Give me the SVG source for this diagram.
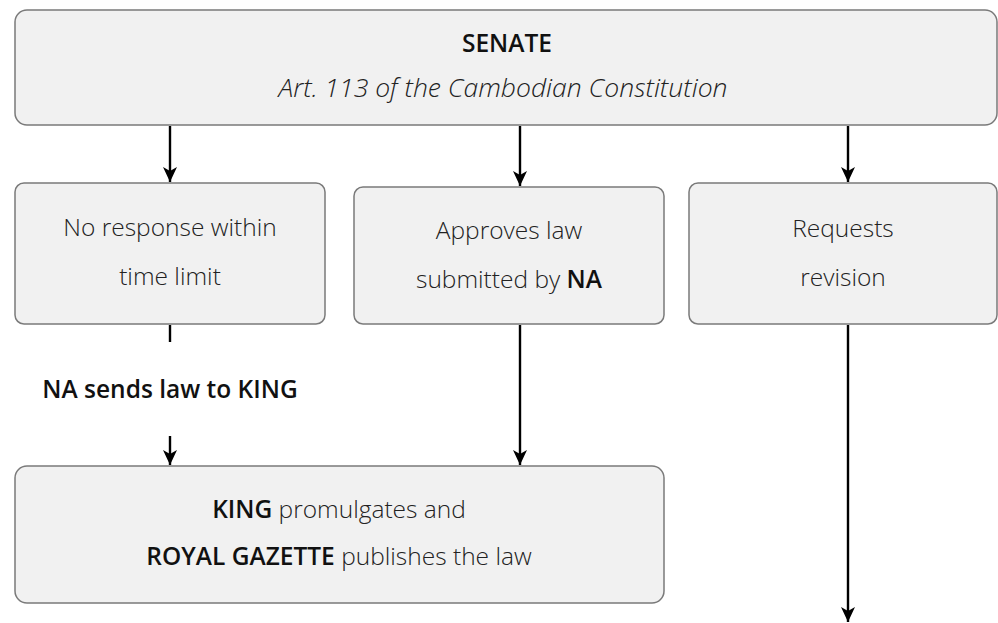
<svg xmlns="http://www.w3.org/2000/svg" width="998" height="623" viewBox="0 0 998 623">
<style>
.box{fill:#f1f1f1;stroke:#7a7a7a;stroke-width:1.5}
.t{font-family:"Open Sans","Noto Sans",sans-serif;font-size:24.5px;fill:#222;text-anchor:middle;font-weight:300}
.b{font-weight:600;fill:#111}
.it{font-style:italic;font-size:26.5px}
.c{stroke:#000;stroke-width:2.4;fill:none}
</style>
<defs>
<marker id="ah" markerUnits="userSpaceOnUse" markerWidth="16" markerHeight="16" viewBox="0 -8 16 16" refX="15" refY="0" orient="auto">
<path d="M0,-7 L15,0 L0,7 L4,0 z" fill="#000"/>
</marker>
</defs>
<g id="senate">
<rect class="box" x="15" y="10" width="982" height="115" rx="12"/>
<text class="t b" x="507" y="52">SENATE</text>
<text class="t it" x="503" y="97">Art. 113 of the Cambodian Constitution</text>
</g>
<g id="no-response">
<rect class="box" x="15" y="183" width="310" height="141" rx="9"/>
<text class="t" x="170" y="236">No response within</text>
<text class="t" x="170" y="285">time limit</text>
</g>
<g id="approves">
<rect class="box" x="354" y="187" width="310" height="137" rx="9"/>
<text class="t" x="509" y="239">Approves law</text>
<text class="t" x="509" y="288">submitted by <tspan class="b">NA</tspan></text>
</g>
<g id="requests">
<rect class="box" x="689" y="183" width="308" height="141" rx="9"/>
<text class="t" x="843" y="237">Requests</text>
<text class="t" x="843" y="286">revision</text>
</g>
<g id="king">
<rect class="box" x="15" y="466" width="649" height="137" rx="12"/>
<text class="t" x="339" y="518"><tspan class="b">KING</tspan> promulgates and</text>
<text class="t" x="339" y="565"><tspan class="b">ROYAL GAZETTE</tspan> publishes the law</text>
</g>
<g id="connectors">
<line class="c" x1="170" y1="126" x2="170" y2="182" marker-end="url(#ah)"/>
<line class="c" x1="520" y1="126" x2="520" y2="186" marker-end="url(#ah)"/>
<line class="c" x1="848" y1="126" x2="848" y2="182" marker-end="url(#ah)"/>
<line class="c" x1="170" y1="325" x2="170" y2="342"/>
<text class="t b" x="170" y="398">NA sends law to KING</text>
<line class="c" x1="170" y1="436" x2="170" y2="465" marker-end="url(#ah)"/>
<line class="c" x1="520" y1="325" x2="520" y2="465" marker-end="url(#ah)"/>
<line class="c" x1="848" y1="325" x2="848" y2="622" marker-end="url(#ah)"/>
</g>
</svg>
